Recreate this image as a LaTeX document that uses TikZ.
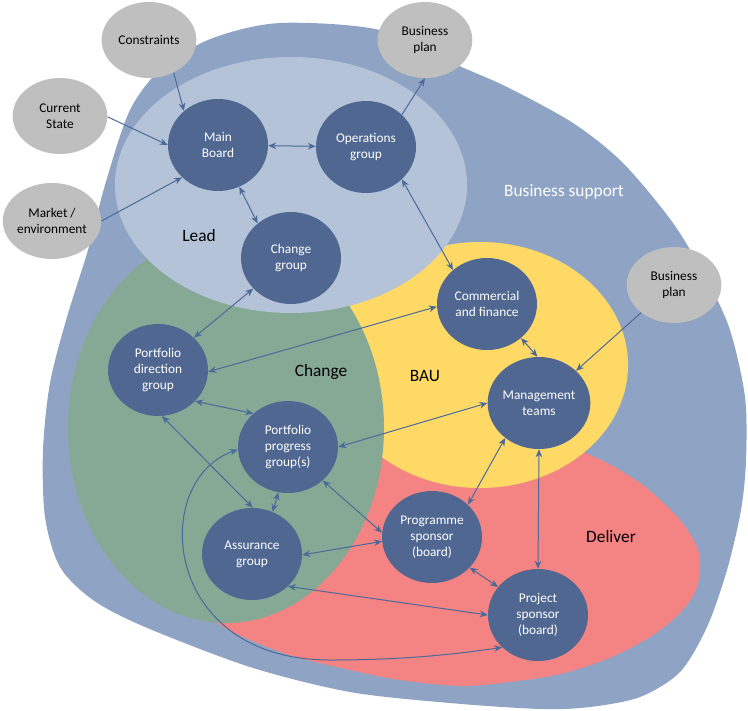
\documentclass[tikz,border=0pt]{standalone}
\usepackage{fontspec}
\setmainfont{Carlito}
\usetikzlibrary{arrows.meta}
\usetikzlibrary{shapes}

\begin{document}
\begin{tikzpicture}[x=0.75pt,y=-0.75pt]
        \tikzset{>={Stealth[length=6pt,width=5pt]}}
        \definecolor{supportcolor}{HTML}{8FA4C4}
        \definecolor{leadcolor}{HTML}{B4C3D8}
        \definecolor{changecolor}{HTML}{86A996}
        \definecolor{baucolor}{HTML}{FFD966}
        \definecolor{delivercolor}{HTML}{F48483}
        \definecolor{groupcolor}{HTML}{4F6791}
        \definecolor{inputcolor}{HTML}{BFBFBF}
        \definecolor{linkcolor}{HTML}{4A6A9A}
        \tikzstyle{group}=[ellipse,fill=groupcolor,text=white,minimum width=75pt,minimum height=69pt,inner sep=0pt,align=center,font=\fontsize{10}{12}\selectfont]
        \tikzstyle{input}=[ellipse,fill=inputcolor,text=black,minimum width=71pt,minimum height=57pt,inner sep=0pt,align=center,font=\fontsize{10}{12}\selectfont]
        \tikzstyle{area}=[font=\fontsize{13}{15}\selectfont]
        \tikzstyle{link}=[<->,draw=linkcolor,line width=0.75pt]
        \tikzstyle{feed}=[->,draw=linkcolor,line width=0.75pt]

        \useasboundingbox (0,0) rectangle (748,710);

        \fill[supportcolor] plot[smooth cycle,tension=0.5] coordinates {(280,23) (380,30) (457,65) (507,87) (573,123) (623,163) (673,223) (707,280) (730,330) (745,397) (746,460) (741,510) (727,570) (707,627) (680,672) (640,697) (590,707) (540,709) (450,703) (350,692) (250,667) (145,627) (93,600) (60,567) (45,517) (43,450) (50,383) (67,317) (88,250) (105,185) (130,110) (163,67) (213,38)};
        \fill[delivercolor] plot[smooth cycle,tension=0.5] coordinates {(583,452) (640,483) (680,520) (699,553) (697,587) (680,613) (650,637) (607,659) (560,674) (510,682) (460,686) (400,680) (350,670) (283,653) (217,623) (180,580) (200,520) (280,470) (380,440) (500,432)};
        \fill[baucolor] (480,365) ellipse [x radius=148, y radius=123];
        \fill[changecolor] (226,428) ellipse [x radius=158, y radius=195];
        \fill[leadcolor] (291,185) ellipse [x radius=176, y radius=128];

        \node[area] (leadlabel) at (199,236) {Lead};
        \node[area] (changelabel) at (321,372) {Change};
        \node[area] (baulabel) at (425,376) {BAU};
        \node[area] (deliverlabel) at (611,537) {Deliver};
        \node[area,text=white] (supportlabel) at (564,192) {Business support};

        \node[input] (constraints) at (149,40) {Constraints};
        \node[input] (current) at (60,116) {Current\\State};
        \node[input] (market) at (52,221) {Market /\\environment};
        \node[input] (planops) at (425,40) {Business\\plan};
        \node[input] (planmgmt) at (674,285) {Business\\plan};

        \node[group] (board) at (218,145) {Main\\Board};
        \node[group] (ops) at (366,147) {Operations\\group};
        \node[group] (change) at (291,258) {Change\\group};
        \node[group] (finance) at (487,304) {Commercial\\and finance};
        \node[group] (direction) at (158,370) {Portfolio\\direction\\group};
        \node[group] (progress) at (288,447) {Portfolio\\progress\\group(s)};
        \node[group] (assurance) at (252,554) {Assurance\\group};
        \node[group] (mgmt) at (539,403) {Management\\teams};
        \node[group] (programme) at (432,537) {Programme\\sponsor\\(board)};
        \node[group] (project) at (538,615) {Project\\sponsor\\(board)};

        \draw[feed] (constraints.-53) -- (board.135);
        \draw[feed] (current.-1) -- (board.180);
        \draw[feed] (market.0) -- (board.222);
        \draw[feed] (ops.42) -- (planops.-90);
        \draw[feed] (planmgmt.220) -- (mgmt.41);
        \draw[link] (board) -- (ops);
        \draw[link] (board.-63) -- (change.134);
        \draw[link] (ops.-42) -- (finance.135);
        \draw[link] (change.219) -- (direction.42);
        \draw[link] (finance.183) -- (direction.-2);
        \draw[link] (finance.-45) -- (mgmt.92);
        \draw[link] (direction.-40) -- (progress.136);
        \draw[link] (direction.-85) -- (assurance.89);
        \draw[link] (mgmt.180) -- (progress.0);
        \draw[link] (progress.-102) -- (assurance.64);
        \draw[link] (progress.-44) -- (programme.175);
        \draw[link] (assurance.-1) -- (programme.185);
        \draw[link] (mgmt.226) -- (programme.42);
        \draw[link] (mgmt.-90) -- (project.90);
        \draw[link] (programme.-39) -- (project.145);
        \draw[link] (assurance.-42) -- (project.180);
        \draw[link] (progress.183) .. controls (150,480) and (160,660) .. (330,660) .. controls (400,660) and (450,655) .. (project.222);
    \end{tikzpicture}
\end{document}
